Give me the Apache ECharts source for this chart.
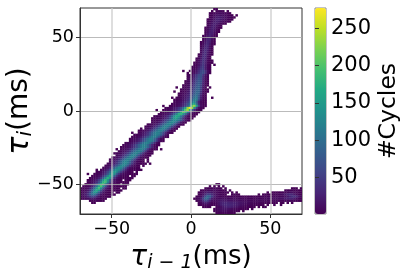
<!DOCTYPE html>
<html><head><meta charset="utf-8">
<script src="https://cdn.jsdelivr.net/npm/echarts@6/dist/echarts.min.js"></script>
<style>html,body{margin:0;padding:0;background:#fff}#c{width:407px;height:274px}</style>
</head><body><div id="c"></div>
<script>
const xTicks=[-50,0,50];
const yTicks=[-50,0,50];
const cbTicks=[50,100,150,200,250];
const binSize=1.4;
const viridis=['#440154','#482475','#414487','#355f8d','#2a788e','#21918c','#22a884','#44bf70','#7ad151','#bddf26','#fde725'];
// each row: [row from the top, first column from the left, counts...]
const upperArm=[
[0,60,1,2],[1,59,1,0,2,5,6,3,0,1],[2,58,1,2,4,8,9,10,6,5,3,2,0],[3,58,2,4,9,14,16,13,12,8,6,3,1,0,1],
[4,58,3,6,12,18,22,20,15,10,7,4,2,1],[5,57,1,4,9,16,24,26,20,14,9,5,3,1],[6,57,2,6,13,20,25,22,15,9,5,3,1],
[7,57,3,9,17,24,22,15,8,4,1],[8,57,4,12,20,24,15,7,2],[9,56,1,6,15,24,22,12,4,1],[10,56,2,8,18,25,18,8,2],
[11,56,3,10,22,26,16,5,1],[12,56,4,14,26,24,11,3],[13,55,1,7,18,28,20,7,1],[14,55,2,10,24,28,15,4],
[15,55,3,14,28,26,10,2],[16,54,1,6,20,30,22,7,1],[17,54,2,9,24,32,18,5,1],[18,54,3,13,28,30,13,3],
[19,54,5,18,32,28,10,2],[20,54,7,22,36,24,8,1],[21,54,9,26,36,20,6,1],[22,53,2,12,30,36,16,4,1],
[23,53,3,15,34,34,13,3],[24,52,1,6,20,38,30,10,2],[25,52,2,8,24,40,28,8,2,1],[26,51,1,3,11,28,42,26,7,2,1],
[27,51,1,4,14,32,44,24,6,1,0],[28,50,1,3,8,22,40,48,24,6,1],[29,50,2,4,11,26,46,50,22,5,1],
[30,49,1,3,8,18,36,56,62,40,12,2],[31,48,1,0,4,10,22,42,62,66,40,10,2],[32,48,2,4,10,24,44,64,68,44,18,4],
[33,48,3,6,13,28,50,70,66,38,14,2],[34,48,4,8,16,34,56,74,64,32,10,2],[35,47,1,5,10,20,38,60,78,68,30,8,1],
[36,47,2,6,13,26,44,66,80,62,26,6,1],[37,46,1,3,8,16,30,50,70,84,58,22,5,1],[38,46,2,5,10,20,36,56,76,86,54,18,4,0],
[39,45,1,3,6,13,24,40,62,82,88,50,14,3,1],[40,44,0,1,4,8,16,28,46,68,88,90,44,11,2,1],[41,44,1,3,6,11,20,34,52,76,94,84,36,8,1],
[42,44,2,5,9,15,26,40,62,86,102,76,28,6,1],[43,43,1,3,6,11,18,30,48,72,98,112,70,22,4,1],[44,42,1,3,5,8,14,24,38,58,86,115,120,62,18,4,1],
[45,42,3,5,8,12,20,32,50,78,105,130,85,28,7,2,1],[46,41,2,4,7,11,18,28,44,68,95,140,160,100,30,8,2,1],
[47,40,1,3,5,8,13,20,32,50,78,125,205,230,165,55,12,3,1]
];
const mainBand=[
[48,38,1,3,6,10,17,27,42,64,95,155,235,272,240,140,50,14,3,1],[49,37,1,3,5,8,13,21,34,52,80,140,205,235,170,90,34,10,2,1],
[50,36,1,3,6,9,15,24,38,60,105,170,205,185,120,60,20,6,1,1],[51,35,2,4,6,10,17,28,46,80,125,175,180,140,90,42,13,4,1,1],
[52,33,1,3,5,8,12,20,34,56,90,135,165,155,115,70,28,9,2,1,1],[53,32,1,2,4,6,10,16,26,42,70,105,145,155,125,85,42,15,4,1,1],
[54,32,1,3,6,10,18,30,48,70,95,118,130,125,105,75,40,14,3,1],[55,31,0,3,6,10,17,30,48,72,98,120,130,118,90,55,22,6,1],
[56,30,1,4,8,13,22,36,56,80,104,122,126,108,78,44,15,4,1],[57,29,2,5,9,16,26,42,64,88,110,124,118,95,64,32,10,2,0],
[58,27,1,0,6,10,17,28,46,68,92,112,124,112,88,56,24,6,1],[59,26,1,3,6,11,19,32,52,76,100,118,122,102,74,42,15,3,1],
[60,25,0,5,8,14,24,38,58,82,106,120,115,92,62,32,10,2,1],[61,24,1,3,6,10,17,28,44,66,90,110,122,110,84,50,20,5,0],
[62,23,1,3,6,10,18,30,48,70,95,114,122,105,76,42,15,4,1],[63,22,2,5,8,13,22,36,56,80,104,120,118,94,62,28,7,1],
[64,21,0,3,6,10,17,27,42,64,88,110,122,112,84,50,20,5,1],[65,20,2,5,9,14,23,36,55,78,102,118,120,100,70,36,12,3,0],
[66,19,2,5,9,15,25,40,60,84,106,120,116,94,62,30,9,2,1],[67,18,1,3,6,10,17,28,44,64,88,108,122,116,92,58,26,8,1,0],
[68,16,1,0,3,6,10,17,28,44,66,88,108,122,112,86,50,20,5,1,1],[69,16,0,4,7,11,18,30,48,70,92,110,122,108,80,44,15,4,1,0],
[70,15,2,4,7,11,19,32,50,74,96,114,122,102,70,36,12,3,1,1],[71,15,0,6,11,19,32,52,76,100,118,122,100,66,34,13,4,1,1],
[72,14,2,6,11,19,32,52,78,102,120,120,98,62,30,11,4,1,1],[73,13,2,6,11,20,35,56,82,108,124,118,92,56,26,10,4,1,0,1],
[74,12,0,6,11,21,36,58,86,112,126,116,88,52,24,9,4,1,1,0,1],[75,12,3,7,13,24,42,66,94,118,128,110,80,44,20,8,3,1,1,1],
[76,11,3,7,13,25,44,68,98,122,130,110,78,42,18,7,3,1,0,1],[77,10,3,7,14,28,50,80,112,136,128,98,62,30,13,5,2,1,1,0],
[78,9,3,7,15,30,54,86,118,140,130,100,62,30,13,5,2,1,1,1],[79,7,1,4,8,17,32,58,92,130,150,132,95,56,26,11,4,2,1,0,1],
[80,6,1,3,6,12,22,42,74,120,158,138,86,44,20,8,4,2,1,1,1,1],[81,5,1,3,6,12,22,42,78,126,165,140,84,42,18,8,3,1,1,0,1,1],
[82,4,1,3,6,12,24,46,82,135,175,145,84,38,16,7,3,1,1,1,1,1],[83,3,1,3,7,13,25,50,92,145,185,145,80,36,15,6,3,1,0,1,1,1],
[84,3,2,4,8,17,34,66,118,175,190,125,66,28,11,4,2,1,1,1,1],[85,2,1,3,7,14,30,58,108,170,195,130,68,28,11,4,2,1,0,1,1,1],
[86,1,1,3,6,12,27,54,102,165,198,135,70,28,11,4,2,1,1,1,1,1],[87,0,1,3,6,11,24,48,94,150,190,138,72,28,11,4,2,1,1,1,0,1],
[88,0,2,4,9,19,38,74,122,170,140,80,32,12,4,2,1,1,1,1,1],[89,0,3,7,15,30,58,100,145,135,82,38,14,5,2,1,1,0,1,1],
[90,0,4,10,20,40,70,100,108,74,40,16,5,2,1,1,1,1],[91,0,4,9,16,30,46,58,52,32,16,6,2,1,1,1],
[92,0,2,4,8,13,19,22,16,9,4,2,1,1],[93,4,1,2,3,4,3,2,1],[94,5,1,1]
];
const lowerArm=[
[85,61,1,1],[86,58,1,0,1,0,2,0,1],[87,56,1,2,3,2,4,5,2,1,0,1],[87,95,1,2,1,0,1],
[88,54,1,2,4,8,9,8,10,6,4,2,1,2,0,1],[88,92,1,2,3,4,3,2,1,1],
[89,53,1,3,8,16,24,22,18,12,7,4,3,1,2,1,0,1,0,1],[89,84,1,0,1,1,2,1,2,3,5,7,10,12,8,5,3,1,1],
[90,53,2,5,14,32,52,50,34,18,10,6,3,2,1,0,0,1,2,1,1,0],[90,80,1,0,1,2,1,2,3,3,4,6,8,12,18,28,35,30,18,9,5,2,1],
[91,52,1,4,10,28,62,92,80,48,22,10,6,4,4,3,2,2,3,4,3,3,2,3,2,2,3,2,2,1,2,3,3,4,4,5,6,6,7,7,8,9,12,18,28,38,40,30,16,8,3],
[92,51,1,3,8,22,52,88,92,55,24,12,8,8,10,10,9,8,8,9,10,8,7,7,6,6,5,5,5,4,5,6,6,7,8,8,10,10,11,11,12,14,16,20,26,30,28,20,10,5,2,1],
[93,52,2,6,16,38,60,52,28,14,9,10,14,18,18,16,15,14,14,13,12,11,10,9,8,8,7,7,6,7,8,8,7,7,6,6,6,5,5,6,5,4,4,6,8,8,5,3,2,1],
[94,53,3,8,18,28,24,12,6,4,8,16,24,28,30,30,28,26,24,22,18,16,14,12,10,8,7,5,4,5,4,3,3,2,2,1,1,1,0,1,1,0,1,0,1],
[95,53,1,3,6,9,8,4,2,3,7,14,24,30,34,34,32,30,26,22,18,14,11,8,6,5,3,2,2,1,1,1,0,1,0,0,1,0,0,1],
[96,55,1,2,2,1,0,0,3,7,13,20,26,28,28,24,20,15,11,8,5,3,2,1,1,1,0,1,0,1,1,0],
[97,60,2,5,9,13,16,17,16,13,10,7,5,3,2,1,1,1,0,1],[98,60,1,4,7,9,10,10,8,6,4,3,2,1,0,1],[99,61,1,2,3,3,4,3,2,1,1,0]
];
const strayCells=[
[30,46,1],[38,43,1],[40,42,1],[43,41,1],[47,37,1],[49,34,1],[27,60,1],[43,59,1],[38,58,1],
[75,31,1],[78,27,1],[87,20,1],[80,3,1],[78,7,1],[60,23,1],[68,36,1]
];
const cells=[];
[upperArm,mainBand,lowerArm,strayCells].forEach(rows=>rows.forEach(r=>{
  for(let i=2;i<r.length;i++){ if(r[i]>0){
    cells.push([-70+binSize*(r[1]+i-2+0.5),70-binSize*(r[0]+0.5),r[i]]);
  }}
}));
const font='"DejaVu Sans"';
const chart=echarts.init(document.getElementById('c'),null,{renderer:'canvas'});
const mainAxis=(ticks)=>({type:'value',min:-70,max:70,z:10,
  axisLine:{show:true,onZero:false,lineStyle:{color:'#333',width:1}},
  axisTick:{show:true,length:4,customValues:ticks,lineStyle:{color:'#333',width:1}},
  axisLabel:{customValues:ticks,color:'#000',fontSize:17.5,fontFamily:font,margin:6,
    formatter:v=>String(v).replace('-','\u2212')}
});
const nameRich={
  t:{fontFamily:font,fontStyle:'italic',fontSize:28,color:'#000'},
  s:{fontFamily:font,fontStyle:'italic',fontSize:19,color:'#000',padding:[12,0,0,0]},
  m:{fontFamily:font,fontSize:26,color:'#000'}
};
const nameRichY={
  t:{fontFamily:font,fontStyle:'italic',fontSize:30,color:'#000'},
  s:{fontFamily:font,fontStyle:'italic',fontSize:20,color:'#000',padding:[12,0,0,0]},
  m:{fontFamily:font,fontSize:28,color:'#000'}
};
chart.setOption({
  animation:false,backgroundColor:'#fff',
  grid:[
    {left:80,top:8,width:222,height:206,show:true,borderColor:'#333',borderWidth:1,backgroundColor:'#fff',outerBoundsMode:'none'},
    {left:315,top:8,width:11,height:206,show:true,borderColor:'#888',borderWidth:1,backgroundColor:'transparent',outerBoundsMode:'none'}
  ],
  xAxis:[
    Object.assign(mainAxis(xTicks),{gridIndex:0,
      splitLine:{show:true,lineStyle:{color:'rgba(200,200,200,0.6)',width:2}},
      name:'{t|\u03c4}{s|i \u2212 1}{m|(ms)}',nameLocation:'middle',nameGap:28,
      nameTextStyle:{rich:nameRich}}),
    {gridIndex:1,type:'value',show:false,min:0,max:1}
  ],
  yAxis:[
    Object.assign(mainAxis(yTicks),{gridIndex:0,
      splitLine:{show:true,lineStyle:{color:'rgba(170,170,170,0.8)',width:1}},
      name:'{t|\u03c4}{s|i}{m|(ms)}',nameLocation:'middle',nameGap:44,nameRotate:90,nameMoveOverlap:false,
      nameTextStyle:{rich:nameRichY}}),
    {gridIndex:1,type:'value',position:'right',min:1,max:277,z:10,
      splitLine:{show:false},
      axisLine:{show:false},
      axisTick:{show:true,length:4,customValues:cbTicks,lineStyle:{color:'#333'}},
      axisLabel:{customValues:cbTicks,color:'#000',fontSize:21,fontFamily:font,margin:5},
      name:'#Cycles',nameLocation:'middle',nameGap:51,nameRotate:90,
      nameTextStyle:{color:'#000',fontSize:23.5,fontFamily:font}}
  ],
  visualMap:{type:'continuous',min:1,max:277,dimension:2,seriesIndex:0,
    left:315,top:8,itemWidth:11,itemHeight:206,padding:0,calculable:false,
    text:null,showLabel:false,inRange:{color:viridis}},
  series:[{
    type:'custom',coordinateSystem:'cartesian2d',xAxisIndex:0,yAxisIndex:0,clip:true,z:2,
    encode:{x:0,y:1},data:cells,silent:true,
    renderItem:(params,api)=>{
      const x=api.value(0),y=api.value(1);
      const a=api.coord([x-binSize/2,y+binSize/2]);
      const b=api.coord([x+binSize/2,y-binSize/2]);
      return {type:'rect',shape:{x:a[0],y:a[1],width:b[0]-a[0]+0.3,height:b[1]-a[1]+0.3},
        style:{fill:api.visual('color')}};
    }
  }]
});
</script></body></html>
